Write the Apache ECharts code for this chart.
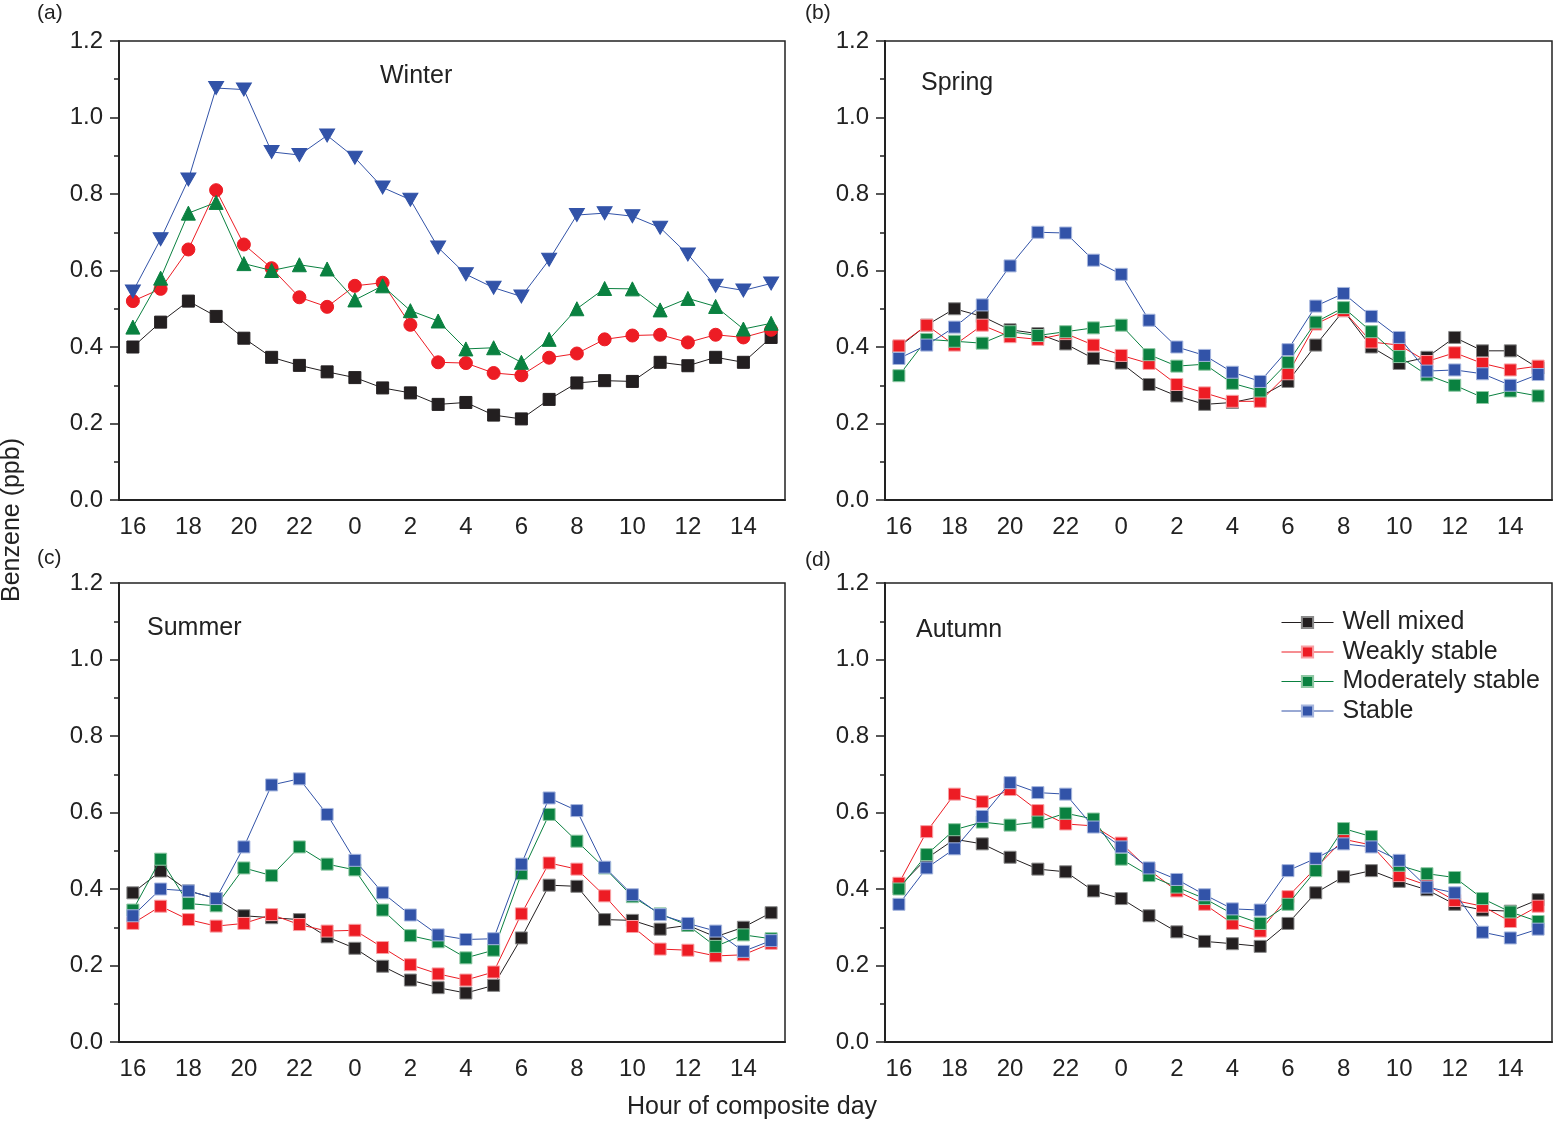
<!DOCTYPE html>
<html>
<head>
<meta charset="utf-8">
<script src="https://cdn.jsdelivr.net/npm/echarts@6/dist/echarts.min.js"></script>
<style>
  html, body { margin: 0; padding: 0; background: #fff; }
  #chart { width: 1556px; height: 1121px; }
</style>
</head>
<body>
<div id="chart"></div>
<script>
// hours of the composite day, starting at 16:00
const hours = ['16','17','18','19','20','21','22','23','0','1','2','3','4','5','6','7','8','9','10','11','12','13','14','15'];
const seriesNames = ['Well mixed', 'Weakly stable', 'Moderately stable', 'Stable'];
const yTicks = [0, 0.2, 0.4, 0.6, 0.8, 1.0, 1.2];

// (a) Winter
const winterWellMixed = [0.400,0.465,0.520,0.480,0.423,0.373,0.352,0.335,0.320,0.293,0.280,0.250,0.255,0.222,0.212,0.263,0.306,0.312,0.310,0.360,0.351,0.373,0.360,0.425];
const winterWeakly    = [0.520,0.552,0.655,0.810,0.668,0.606,0.530,0.505,0.560,0.568,0.458,0.360,0.358,0.332,0.326,0.372,0.383,0.420,0.430,0.432,0.412,0.432,0.425,0.445];
const winterModerate  = [0.452,0.580,0.750,0.778,0.618,0.600,0.615,0.604,0.523,0.560,0.495,0.468,0.395,0.398,0.360,0.420,0.500,0.553,0.552,0.497,0.527,0.506,0.447,0.462];
const winterStable    = [0.545,0.682,0.838,1.077,1.073,0.910,0.902,0.953,0.895,0.817,0.785,0.660,0.590,0.555,0.532,0.628,0.745,0.750,0.742,0.712,0.642,0.560,0.548,0.566];

// (b) Spring
const springWellMixed = [0.400,0.457,0.500,0.480,0.445,0.435,0.408,0.370,0.358,0.302,0.272,0.250,0.255,0.270,0.310,0.405,0.495,0.400,0.357,0.373,0.425,0.390,0.390,0.345];
const springWeakly    = [0.403,0.457,0.405,0.457,0.427,0.420,0.435,0.405,0.378,0.357,0.302,0.280,0.258,0.258,0.330,0.460,0.495,0.413,0.405,0.362,0.385,0.357,0.340,0.350];
const springModerate  = [0.325,0.420,0.415,0.410,0.440,0.430,0.440,0.450,0.457,0.380,0.350,0.355,0.305,0.285,0.360,0.465,0.503,0.440,0.375,0.327,0.300,0.268,0.285,0.272];
const springStable    = [0.370,0.405,0.452,0.510,0.612,0.700,0.698,0.627,0.590,0.470,0.400,0.378,0.334,0.310,0.393,0.507,0.540,0.480,0.425,0.337,0.340,0.330,0.300,0.328];

// (c) Summer
const summerWellMixed = [0.390,0.447,0.395,0.375,0.330,0.325,0.320,0.275,0.245,0.198,0.162,0.142,0.128,0.148,0.272,0.410,0.407,0.320,0.318,0.295,0.305,0.275,0.300,0.338];
const summerWeakly    = [0.310,0.355,0.320,0.303,0.310,0.333,0.307,0.290,0.292,0.247,0.202,0.178,0.162,0.183,0.335,0.468,0.452,0.382,0.302,0.243,0.240,0.225,0.228,0.258];
const summerModerate  = [0.345,0.478,0.362,0.356,0.455,0.435,0.510,0.465,0.450,0.345,0.278,0.262,0.220,0.240,0.440,0.595,0.525,0.455,0.380,0.335,0.305,0.250,0.280,0.270];
const summerStable    = [0.330,0.400,0.395,0.375,0.510,0.672,0.688,0.595,0.475,0.390,0.332,0.280,0.268,0.270,0.465,0.638,0.605,0.457,0.385,0.333,0.310,0.290,0.237,0.265];

// (d) Autumn
const autumnWellMixed = [0.405,0.480,0.530,0.518,0.483,0.452,0.445,0.395,0.375,0.330,0.288,0.263,0.257,0.250,0.310,0.390,0.432,0.448,0.420,0.398,0.360,0.345,0.342,0.372];
const autumnWeakly    = [0.415,0.550,0.648,0.628,0.660,0.605,0.570,0.565,0.520,0.450,0.395,0.360,0.310,0.290,0.380,0.455,0.530,0.515,0.435,0.410,0.370,0.355,0.315,0.355];
const autumnModerate  = [0.400,0.490,0.555,0.575,0.567,0.575,0.598,0.583,0.478,0.435,0.405,0.375,0.335,0.310,0.360,0.448,0.558,0.537,0.462,0.440,0.430,0.375,0.340,0.315];
const autumnStable    = [0.360,0.455,0.505,0.590,0.678,0.652,0.648,0.562,0.510,0.455,0.425,0.385,0.348,0.345,0.448,0.480,0.518,0.510,0.475,0.405,0.390,0.287,0.272,0.295];

const colors = ['#231f20', '#ed1c24', '#0a8140', '#3253a8'];
const edgeColors = ['#8a8a8a', '#f7a0a4', '#8fc8a4', '#a6b6de'];
const FONT = 'Liberation Sans';
const downTriangle = 'path://M0,0 L10,0 L5,9 Z';

const panels = [
  { tag: '(a)', season: 'Winter', left: 119, top: 41, width: 666, data: [winterWellMixed, winterWeakly, winterModerate, winterStable],
    symbols: ['rect', 'circle', 'triangle', downTriangle], sizes: [12, 13, 14, [15, 13]] },
  { tag: '(b)', season: 'Spring', left: 885, top: 41, width: 667, data: [springWellMixed, springWeakly, springModerate, springStable] },
  { tag: '(c)', season: 'Summer', left: 119, top: 583, width: 666, data: [summerWellMixed, summerWeakly, summerModerate, summerStable] },
  { tag: '(d)', season: 'Autumn', left: 885, top: 583, width: 667, data: [autumnWellMixed, autumnWeakly, autumnModerate, autumnStable] }
];
const seasonPos = [[380, 64], [921, 71], [147, 616], [916, 618]];
const tagPos = [[37, 3], [805, 3], [37, 548], [805, 550]];

const grids = [], xAxes = [], yAxes = [], series = [], titles = [];

panels.forEach((p, i) => {
  grids.push({ left: p.left, top: p.top, width: p.width, height: 459, show: true,
    borderColor: '#222', borderWidth: 1.5, backgroundColor: 'transparent' });
  xAxes.push({
    type: 'category', gridIndex: i, data: hours, boundaryGap: true,
    axisLine: { lineStyle: { color: '#222', width: 2 } },
    axisTick: { alignWithLabel: true, interval: 0, length: 8, lineStyle: { color: '#222', width: 1.5 } },
    axisLabel: { interval: 1, margin: 15, fontSize: 24, color: '#222', fontFamily: FONT },
    splitLine: { show: false }
  });
  yAxes.push({
    type: 'value', gridIndex: i, min: yTicks[0], max: yTicks[yTicks.length - 1], interval: 0.2,
    axisLine: { show: true, lineStyle: { color: '#222', width: 2 } },
    axisTick: { show: true, length: 9, lineStyle: { color: '#222', width: 1.5 } },
    minorTick: { show: true, splitNumber: 2, length: 5, lineStyle: { color: '#222', width: 1.5 } },
    axisLabel: { margin: 16, fontSize: 24, color: '#222', fontFamily: FONT, formatter: v => v.toFixed(1) },
    splitLine: { show: false }
  });
  titles.push({ text: p.season, left: seasonPos[i][0], top: seasonPos[i][1], padding: 0,
    textStyle: { fontSize: 25, fontWeight: 'normal', color: '#222', fontFamily: FONT } });
  titles.push({ text: p.tag, left: tagPos[i][0], top: tagPos[i][1], padding: 0,
    textStyle: { fontSize: 21, fontWeight: 'normal', color: '#222', fontFamily: FONT } });
});

// autumn first so the legend (shown in panel d) picks up its square markers
[3, 2, 1, 0].forEach(i => {
  const p = panels[i];
  p.data.forEach((vals, k) => {
    const sym = p.symbols ? p.symbols[k] : 'rect';
    const size = p.sizes ? p.sizes[k] : 12;
    series.push({
      name: seriesNames[k], type: 'line', xAxisIndex: i, yAxisIndex: i,
      data: vals, symbol: sym, symbolSize: size, showAllSymbol: true, z: 2 + k,
      lineStyle: { color: colors[k], width: 1 },
      itemStyle: { color: colors[k], borderColor: p.symbols ? colors[k] : edgeColors[k], borderWidth: 1, opacity: 1 },
      emphasis: { disabled: true },
      animation: false
    });
  });
});

const chart = echarts.init(document.getElementById('chart'));
chart.setOption({
  backgroundColor: '#fff',
  animation: false,
  title: titles,
  legend: {
    data: seriesNames, orient: 'vertical', left: 1281, top: 610, padding: 0,
    itemWidth: 52, itemHeight: 14, itemGap: 4.5,
    lineStyle: { width: 1, color: 'inherit' },
    textStyle: { fontSize: 25, color: '#222', fontFamily: FONT, padding: [0, 0, 0, 4] }
  },
  grid: grids,
  xAxis: xAxes,
  yAxis: yAxes,
  series: series,
  graphic: [
    { type: 'text', x: 12, y: 520, rotation: Math.PI / 2,
      style: { text: 'Benzene (ppb)', fontSize: 25, fill: '#222', fontFamily: FONT, textAlign: 'center', textVerticalAlign: 'middle' } },
    { type: 'text', x: 752, y: 1107,
      style: { text: 'Hour of composite day', fontSize: 25, fill: '#222', fontFamily: FONT, textAlign: 'center', textVerticalAlign: 'middle' } }
  ]
});
window.onresize = () => { chart.resize(); };
</script>
</body>
</html>
